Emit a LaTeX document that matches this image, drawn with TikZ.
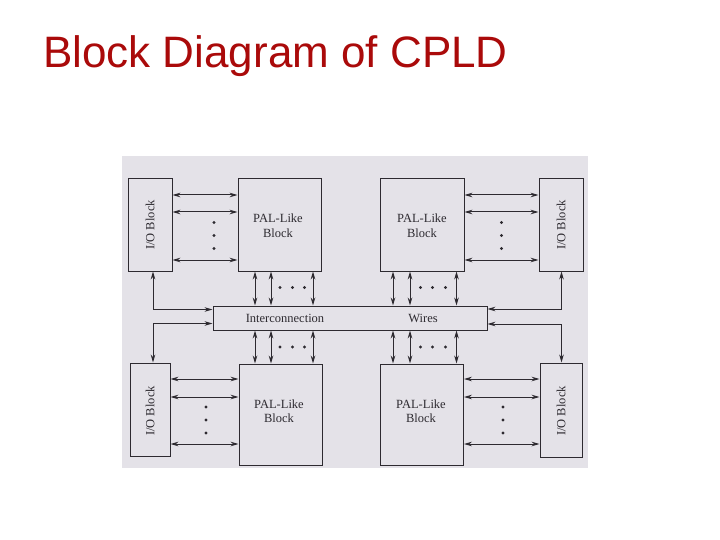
\documentclass[tikz,border=0pt]{standalone}
\usepackage{fontspec}
\setmainfont{Liberation Serif}
\newfontfamily\titlefont{Liberation Sans}
\usetikzlibrary{arrows.meta}
\definecolor{titlered}{RGB}{170,10,10}
\definecolor{scanbg}{RGB}{228,226,232}
\definecolor{inkc}{RGB}{45,42,48}
\begin{document}
\begin{tikzpicture}[x=1pt,y=-1pt,
  blk/.style={draw=inkc, line width=1pt, fill=scanbg, inner sep=0pt},
  txt/.style={text=inkc, font=\fontsize{12.5}{14.5}\selectfont, inner sep=0pt, align=center},
  dbl/.style={draw=inkc, line width=1pt, {Stealth[length=8pt,width=4.6pt]}-{Stealth[length=8pt,width=4.6pt]}},
  dot/.style={circle, fill=inkc, inner sep=0pt, minimum size=3.2pt}]
\useasboundingbox (0,0) rectangle (720,540);
\fill[white] (0,0) rectangle (720,540);
\fill[scanbg] (121.5,156) rectangle (588,467.5);
% title
\node[font=\titlefont\fontsize{44}{50}\selectfont, text=titlered, anchor=base west, inner sep=0pt] (title) at (43,67.5) {Block Diagram of CPLD};
% blocks
\node[blk, minimum width=44pt, minimum height=92pt] (iotl) at (150,225) {};
\node[txt, rotate=90] (iotltxt) at (iotl.center) {I/O Block};
\node[blk, minimum width=83pt, minimum height=92pt] (paltl) at (279.5,225) {};
\node[txt] (paltltxt) at (278,225.5) {PAL-Like\\Block};
\node[blk, minimum width=84pt, minimum height=92pt] (paltr) at (422,225) {};
\node[txt] (paltrtxt) at (422,225.5) {PAL-Like\\Block};
\node[blk, minimum width=44pt, minimum height=92pt] (iotr) at (561,225) {};
\node[txt, rotate=90] (iotrtxt) at (iotr.center) {I/O Block};
\node[blk, minimum width=274pt, minimum height=24pt] (bar) at (350,318) {};
\node[txt] (ic) at (285,318) {Interconnection};
\node[txt] (wires) at (423,318) {Wires};
\node[blk, minimum width=40pt, minimum height=93pt] (iobl) at (150,409.5) {};
\node[txt, rotate=90] (iobltxt) at (150,411) {I/O Block};
\node[blk, minimum width=83pt, minimum height=101pt] (palbl) at (280.5,414.5) {};
\node[txt] (palbltxt) at (279,411) {PAL-Like\\Block};
\node[blk, minimum width=83pt, minimum height=101pt] (palbr) at (422,414.5) {};
\node[txt] (palbrtxt) at (421,411) {PAL-Like\\Block};
\node[blk, minimum width=42pt, minimum height=94pt] (iobr) at (561,410) {};
\node[txt, rotate=90] (iobrtxt) at (561,411) {I/O Block};
% horizontal arrows I/O <-> PAL
\foreach \y in {195,212,260} {
  \draw[dbl] (iotl.east |- 0,\y) -- (paltl.west |- 0,\y);
  \draw[dbl] (paltr.east |- 0,\y) -- (iotr.west |- 0,\y);
}
\foreach \y in {379,397,444} {
  \draw[dbl] (iobl.east |- 0,\y) -- (palbl.west |- 0,\y);
  \draw[dbl] (palbr.east |- 0,\y) -- (iobr.west |- 0,\y);
}
% vertical arrows PAL <-> bar
\foreach \x in {255,271,313} {
  \draw[dbl] (paltl.south -| \x,0) -- (bar.north -| \x,0);
  \draw[dbl] (bar.south -| \x,0) -- (palbl.north -| \x,0);
}
\foreach \x in {393,410,456.5} {
  \draw[dbl] (paltr.south -| \x,0) -- (bar.north -| \x,0);
  \draw[dbl] (bar.south -| \x,0) -- (palbr.north -| \x,0);
}
% side connectors
\draw[dbl] (iotl.south -| 153,0) |- (bar.west |- 0,309.5);
\draw[dbl] (bar.west |- 0,323.5) -| (iobl.north -| 153,0);
\draw[dbl] (iotr.south -| 561.5,0) |- (bar.east |- 0,309);
\draw[dbl] (bar.east |- 0,324) -| (iobr.north -| 561.5,0);
% dots
\foreach \y [count=\k] in {222.5,235.5,248.5} {
  \node[dot] (dtl\k) at (214,\y) {};
  \node[dot] (dtr\k) at (501.5,\y) {};
}
\foreach \y [count=\k] in {407,420,433} {
  \node[dot] (dbl\k) at (206,\y) {};
  \node[dot] (dbr\k) at (503,\y) {};
}
\foreach \x [count=\k] in {280,292.5,304.5} {
  \node[dot] (hlt\k) at (\x,287.5) {};
  \node[dot] (hlb\k) at (\x,347) {};
}
\foreach \x [count=\k] in {420.5,432.5,445.5} {
  \node[dot] (hrt\k) at (\x,287.5) {};
  \node[dot] (hrb\k) at (\x,347) {};
}
\end{tikzpicture}
\end{document}
